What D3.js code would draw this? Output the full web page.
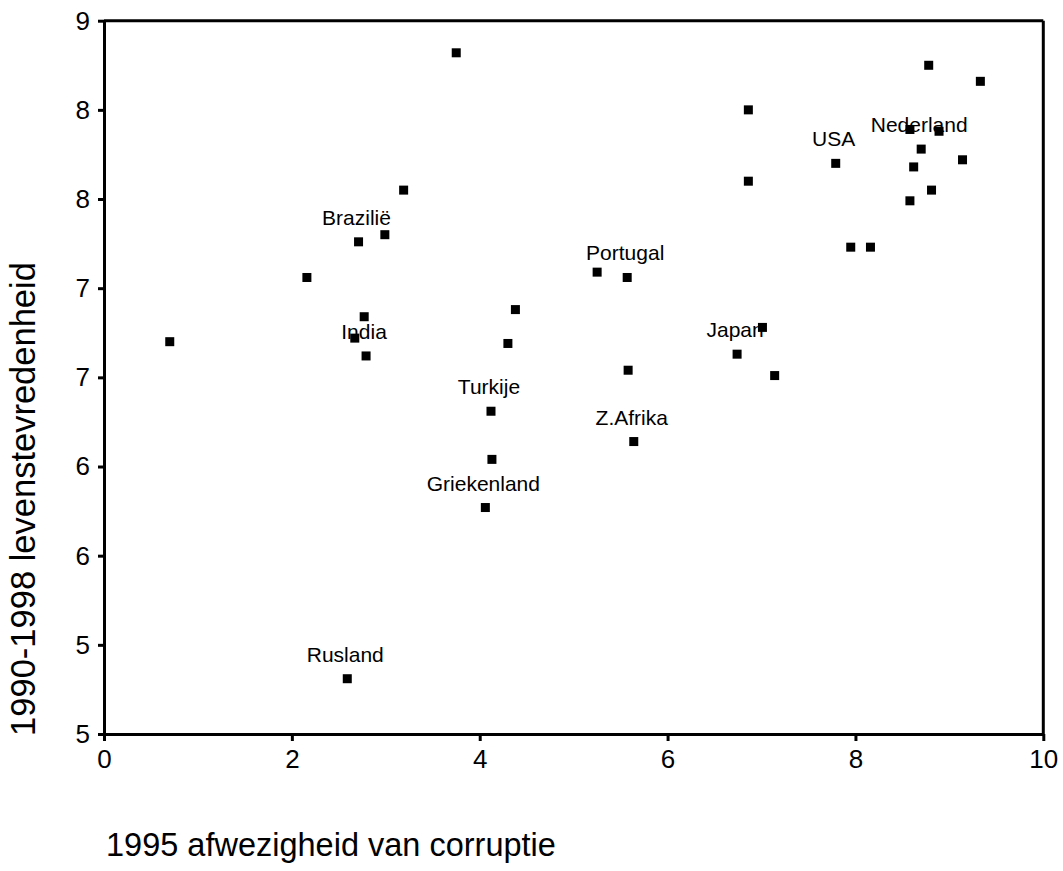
<!DOCTYPE html>
<html>
<head>
<meta charset="utf-8">
<script src="https://d3js.org/d3.v7.min.js"></script>
<style>
  body { margin: 0; background: #fff; }
  svg text { font-family: "Liberation Sans", Arial, sans-serif; fill: #000; }
  .axis path, .axis line { stroke: #000; }
</style>
</head>
<body>
<div id="chart"></div>
<script>
  // 1995 afwezigheid van corruptie (x) vs 1990-1998 levenstevredenheid (y)
  var corruptie = [0.70, 2.16, 2.71, 2.99, 3.19, 3.75, 2.77, 2.67, 2.79, 4.30,
                   4.38, 4.12, 4.13, 4.06, 5.25, 5.57, 5.58, 5.64, 2.59, 6.74,
                   7.01, 7.14, 6.86, 6.86, 7.79, 7.95, 8.16, 8.58, 8.89, 8.70,
                   8.62, 8.58, 8.81, 9.14, 8.78, 9.33];
  var tevredenheid = [7.20, 7.56, 7.76, 7.80, 8.05, 8.82, 7.34, 7.22, 7.12, 7.19,
                      7.38, 6.81, 6.54, 6.27, 7.59, 7.56, 7.04, 6.64, 5.31, 7.13,
                      7.28, 7.01, 8.50, 8.10, 8.20, 7.73, 7.73, 8.39, 8.38, 8.28,
                      8.18, 7.99, 8.05, 8.22, 8.75, 8.66];
  var landen = ["", "", "Brazilië", "", "", "", "", "", "India", "",
                "", "Turkije", "", "Griekenland", "", "Portugal", "", "Z.Afrika", "Rusland", "Japan",
                "", "", "", "", "USA", "", "", "", "", "Nederland",
                "", "", "", "", "", ""];

  var xTicks = [0, 2, 4, 6, 8, 10];
  var yTicks = [5, 5.5, 6, 6.5, 7, 7.5, 8, 8.5, 9];
  var yTickLabels = ["5", "5", "6", "6", "7", "7", "8", "8", "9"];

  var width = 1063, height = 871;
  var plotLeft = 104, plotRight = 1043.3, plotTop = 20.7, plotBottom = 734;

  var svg = d3.select("#chart").append("svg")
    .attr("width", width)
    .attr("height", height);

  var x = d3.scaleLinear().domain([0, 10]).range([plotLeft, plotRight]);
  var y = d3.scaleLinear().domain([5, 9]).range([plotBottom, plotTop]);

  // top and right frame lines
  svg.append("line")
    .attr("x1", plotLeft).attr("x2", plotRight)
    .attr("y1", plotTop).attr("y2", plotTop)
    .attr("stroke", "#000").attr("stroke-width", 3);
  svg.append("line")
    .attr("x1", plotRight).attr("x2", plotRight)
    .attr("y1", plotTop).attr("y2", plotBottom)
    .attr("stroke", "#000").attr("stroke-width", 3);

  var xAxis = svg.append("g")
    .attr("class", "axis")
    .attr("transform", "translate(0," + plotBottom + ")")
    .call(d3.axisBottom(x).tickValues(xTicks).tickSize(7).tickPadding(9).tickSizeOuter(0));

  var yAxis = svg.append("g")
    .attr("class", "axis")
    .attr("transform", "translate(" + plotLeft + ",0)")
    .call(d3.axisLeft(y).tickValues(yTicks)
      .tickFormat(function (d, i) { return yTickLabels[i]; })
      .tickSize(6).tickPadding(8).tickSizeOuter(0));

  svg.selectAll(".axis").attr("font-size", null).attr("font-family", null);
  svg.selectAll(".axis path").attr("stroke-width", 3);
  svg.selectAll(".axis line").attr("stroke-width", 3);
  svg.selectAll(".axis text").style("font-size", "26px").attr("fill", "#000");

  var points = corruptie.map(function (c, i) {
    return { x: c, y: tevredenheid[i], label: landen[i] };
  });

  // labels first, markers drawn on top of them
  svg.append("g").selectAll("text")
    .data(points.filter(function (d) { return d.label; }))
    .enter()
    .append("text")
    .attr("x", function (d) { return x(d.x) - 2; })
    .attr("y", function (d) { return y(d.y) - 17; })
    .attr("text-anchor", "middle")
    .style("font-size", "21px")
    .text(function (d) { return d.label; });

  svg.append("g").selectAll("rect")
    .data(points)
    .enter()
    .append("rect")
    .attr("x", function (d) { return x(d.x) - 4.5; })
    .attr("y", function (d) { return y(d.y) - 4.5; })
    .attr("width", 9)
    .attr("height", 9)
    .attr("fill", "#000");

  svg.append("text")
    .attr("x", 106)
    .attr("y", 856)
    .style("font-size", "32.5px")
    .text("1995 afwezigheid van corruptie");

  svg.append("text")
    .attr("transform", "translate(35,499) rotate(-90)")
    .attr("text-anchor", "middle")
    .style("font-size", "34.5px")
    .text("1990-1998 levenstevredenheid");
</script>
</body>
</html>
